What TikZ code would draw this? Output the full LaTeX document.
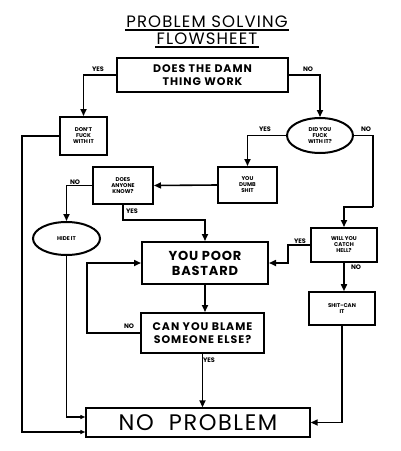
\documentclass[tikz,border=0pt]{standalone}
\usepackage{fontspec}
\setmainfont{Poppins}
\usetikzlibrary{arrows.meta,shapes.geometric,calc}
\tikzset{
  box/.style={draw, line width=2pt, rectangle, inner sep=0pt, align=center, font=\bfseries},
  oval/.style={draw, line width=2pt, ellipse, inner sep=0pt, align=center, font=\bfseries},
  conn/.style={line width=1.6pt},
  arr/.style={line width=1.6pt, -{Triangle[width=6pt,length=7pt]}},
  thinarr/.style={line width=1.3pt, -{Triangle[width=4pt,length=5pt]}},
  lbl/.style={font=\fontsize{6.5}{7}\selectfont\bfseries, inner sep=0pt},
  tiny/.style={font=\fontsize{5.5}{6}\selectfont\bfseries},
  midtext/.style={font=\fontsize{11}{13}\selectfont\bfseries\addfontfeatures{LetterSpace=9}},
}
\begin{document}
\begin{tikzpicture}[x=1pt,y=-1pt]
\useasboundingbox (0,0) rectangle (400,451);
\fill[white] (0,0) rectangle (400,451);
% title
\node[font=\fontsize{16.5}{18}\selectfont\addfontfeatures{LetterSpace=7}, inner sep=1pt] (t1) at (207,22) {PROBLEM SOLVING};
\node[font=\fontsize{16.5}{18}\selectfont\addfontfeatures{LetterSpace=7}, inner sep=1pt] (t2) at (207,39) {FLOWSHEET};
\draw[line width=1.4pt] ([yshift=-1pt]t1.south west) -- ([yshift=-1pt]t1.south east);
\draw[line width=1.4pt] ([yshift=-1pt]t2.south west) -- ([yshift=-1pt]t2.south east);
% nodes
\node[box, minimum width=171pt, minimum height=34pt, midtext] (work) at (202.5,75) {DOES THE DAMN\\THING WORK};
\node[box, minimum width=47pt, minimum height=38pt, tiny] (dont) at (83.5,136) {DON'T\\FUCK\\WITH IT};
\node[oval, minimum width=66pt, minimum height=35pt, tiny] (did) at (320,135.5) {DID YOU\\FUCK\\WITH IT?};
\node[box, minimum width=59pt, minimum height=36pt, tiny] (dumb) at (247.5,185) {YOU\\DUMB\\SHIT};
\node[box, minimum width=60pt, minimum height=37pt, tiny] (anyone) at (123,185.5) {DOES\\ANYONE\\KNOW?};
\node[oval, minimum width=67pt, minimum height=33pt, tiny] (hide) at (66.5,238.5) {HIDE IT};
\node[box, minimum width=126pt, minimum height=42pt, font=\fontsize{13}{15}\selectfont\bfseries\addfontfeatures{LetterSpace=6}] (poor) at (205,263) {YOU POOR\\BASTARD};
\node[box, minimum width=66pt, minimum height=34pt, tiny] (hell) at (344,245) {WILL YOU\\CATCH\\HELL?};
\node[box, line width=1.6pt, minimum width=66pt, minimum height=33pt, tiny] (shit) at (342,308.5) {SHIT-CAN\\IT};
\node[box, minimum width=123pt, minimum height=40pt, midtext] (blame) at (202.5,333) {CAN YOU BLAME\\SOMEONE ELSE?};
\node[box, line width=1.4pt, minimum width=224pt, minimum height=29pt, font=\fontsize{22.5}{24}\selectfont\addfontfeatures{LetterSpace=7}] (noprob) at (198,422.5) {NO\ \ PROBLEM};
% labels
\node[lbl] (l1) at (98,69) {YES};
\node[lbl] (l2) at (308,69) {NO};
\node[lbl] (l3) at (265,129) {YES};
\node[lbl] (l4) at (366,129) {NO};
\node[lbl] (l5) at (75,182) {NO};
\node[lbl] (l6) at (132,211) {YES};
\node[lbl] (l7) at (300,241) {YES};
\node[lbl] (l8) at (356,267) {NO};
\node[lbl] (l9) at (129,326) {NO};
\node[lbl] (l10) at (209,360) {YES};
% helper coordinates
\coordinate (lx) at (22,300);
\coordinate (rx) at (373,207);
\coordinate (yb) at (0,220);
\coordinate (lb) at (87,300);
\coordinate (rb) at (288,255);
% connectors
\draw[arr] (work.west) -| (dont.north);
\draw[arr] (work.east) -| (did.north);
\draw[thinarr] (dont.west) -| (lx) |- ([yshift=-9.5pt]noprob.west);
\draw[arr] (did.west) -| (dumb.north);
\draw[conn] (did.east) -| (rx);
\draw[arr] (rx) -| (hell.north);
\draw[arr] (dumb.west) -- (anyone.east);
\draw[arr] (anyone.west) -| (hide.north);
\draw[arr] (anyone.south) |- (yb -| poor.north) -- (poor.north);
\draw[thinarr] (hide.south) |- ([yshift=5.5pt]noprob.west);
\draw[arr] (blame.west) -| (lb) |- (poor.west);
\draw[arr] (hell.west) -| (rb) |- (poor.east);
\draw[arr] (poor.south) -- (poor.south |- blame.north);
\draw[arr] (hell.south) -- (hell.south |- shit.north);
\draw[arr] (shit.south) |- (noprob.east);
\draw[arr] (blame.south) -- (blame.south |- noprob.north);
\end{tikzpicture}
\end{document}
